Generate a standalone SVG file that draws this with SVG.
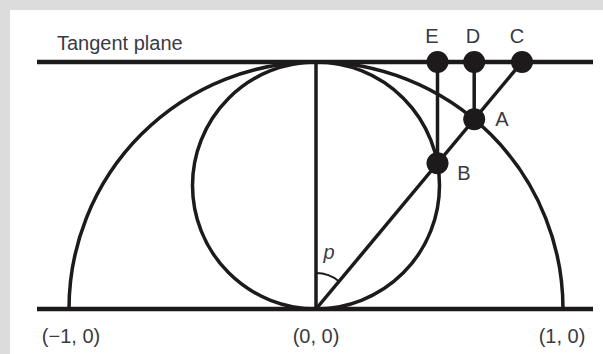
<svg xmlns="http://www.w3.org/2000/svg" width="603" height="354" viewBox="0 0 603 354">
<style>
.bg{fill:#dcdcdc}
.panel{fill:#ffffff}
.thick{stroke:#1c1a1b;stroke-width:4.5;fill:none}
.ln{stroke:#1c1a1b;stroke-width:3.5;fill:none}
.thin{stroke:#1c1a1b;stroke-width:2;fill:none}
.dot{fill:#1c1a1b}
text{font-family:"Liberation Sans",Arial,sans-serif;font-size:20px;fill:#3a3a44}
.lbl{text-anchor:middle}
</style>
<rect class="bg" x="0" y="0" width="603" height="354"/>
<rect class="panel" x="10" y="10" width="593" height="344"/>
<g id="connectors">
<line class="thick" x1="37" y1="62" x2="593" y2="62"/>
<line class="thick" x1="37" y1="309" x2="593" y2="309"/>
<path class="ln" d="M69,309 A247,247 0 0 1 563,309"/>
<circle class="ln" cx="316" cy="185.5" r="123.5"/>
<line class="ln" x1="316" y1="62" x2="316" y2="309"/>
<line class="ln" x1="316" y1="309" x2="522" y2="62"/>
<line class="ln" x1="474.2" y1="62" x2="474.2" y2="119.3"/>
<line class="ln" x1="437.5" y1="62" x2="437.5" y2="163.3"/>
<path class="thin" d="M316,273 A36,36 0 0 1 339.1,281.4"/>
</g>
<g id="C"><circle class="dot" cx="522" cy="62" r="11"/><text class="lbl" x="517" y="43">C</text></g>
<g id="D"><circle class="dot" cx="474.2" cy="62" r="11"/><text class="lbl" x="473" y="43">D</text></g>
<g id="E"><circle class="dot" cx="437.5" cy="62" r="11"/><text class="lbl" x="432" y="43">E</text></g>
<g id="A"><circle class="dot" cx="474.2" cy="119.3" r="11"/><text class="lbl" x="502" y="126">A</text></g>
<g id="B"><circle class="dot" cx="437.5" cy="163.3" r="11"/><text class="lbl" x="464" y="180">B</text></g>
<g id="labels">
<text x="57" y="50">Tangent plane</text>
<text x="329" y="259" style="font-style:italic" class="lbl">p</text>
<text class="lbl" x="71" y="343">(−1, 0)</text>
<text class="lbl" x="316" y="343">(0, 0)</text>
<text class="lbl" x="562" y="343">(1, 0)</text>
</g>
</svg>
